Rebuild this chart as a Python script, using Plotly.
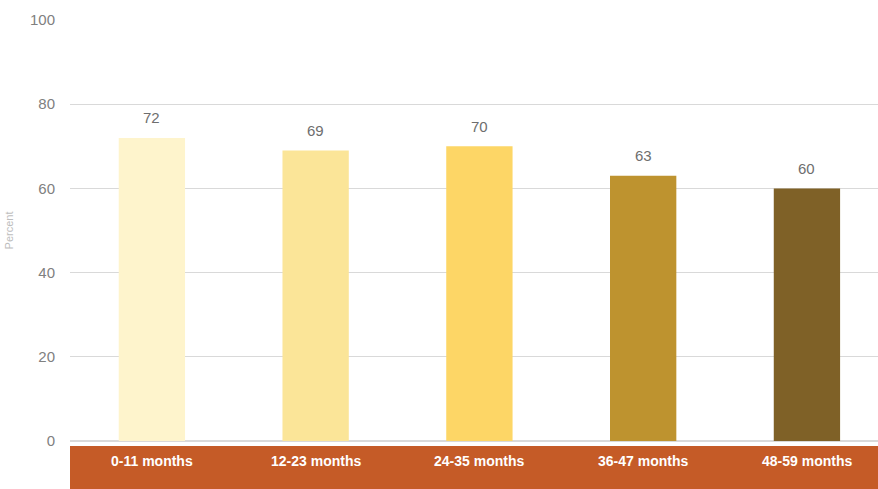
import plotly.graph_objects as go

categories = ["0-11 months", "12-23 months", "24-35 months", "36-47 months", "48-59 months"]
values = [72, 69, 70, 63, 60]
bar_colors = ["#FEF4CC", "#FBE598", "#FDD666", "#BE932F", "#7F6127"]
y_ticks = [0, 20, 40, 60, 80, 100]

W, H = 878, 489
ML, MR, MT, MB = 70, 0, 20, 48
PH = H - MT - MB
FONT = "Liberation Sans, Arial"

fig = go.Figure()
fig.add_trace(go.Bar(
    x=list(range(len(categories))),
    y=values,
    marker=dict(color=bar_colors, line=dict(width=0)),
    width=0.405,
    hoverinfo="skip",
))

# value labels above each bar
for i, v in enumerate(values):
    fig.add_annotation(x=i, y=v, xref="x", yref="y", text=str(v), showarrow=False,
                       yanchor="middle", yshift=20,
                       font=dict(family=FONT, size=15, color="#6E6E6E"))

# category labels on a coloured band under the axis
fig.add_shape(type="rect", xref="paper", yref="paper",
              x0=0, x1=1, y0=1 - (446 - MT) / PH, y1=1 - (H - MT) / PH,
              fillcolor="#C55B27", line=dict(width=0), layer="below")
for i, c in enumerate(categories):
    fig.add_annotation(x=i, xref="x", y=0, yref="paper", yanchor="middle", yshift=-20,
                       text="<b>" + c + "</b>", showarrow=False,
                       font=dict(family=FONT, size=14, color="white"))

fig.update_layout(
    width=W, height=H,
    margin=dict(l=ML, r=MR, t=MT, b=MB),
    plot_bgcolor="white", paper_bgcolor="white",
    showlegend=False,
    xaxis=dict(range=[-0.5, 4.434], showticklabels=False, showgrid=False,
               zeroline=False, showline=False, fixedrange=True),
    yaxis=dict(range=[0, 100], tickvals=y_ticks, showgrid=True, gridcolor="#D9D9D9",
               gridwidth=1, zeroline=True, zerolinecolor="#D9D9D9", zerolinewidth=2,
               ticks="", ticklabelstandoff=14,
               tickfont=dict(family=FONT, size=15, color="#808080"),
               title=dict(text="Percent", standoff=14,
                          font=dict(family=FONT, size=11, color="#BDBDBD"))),
)

fig.write_html("out.html")
